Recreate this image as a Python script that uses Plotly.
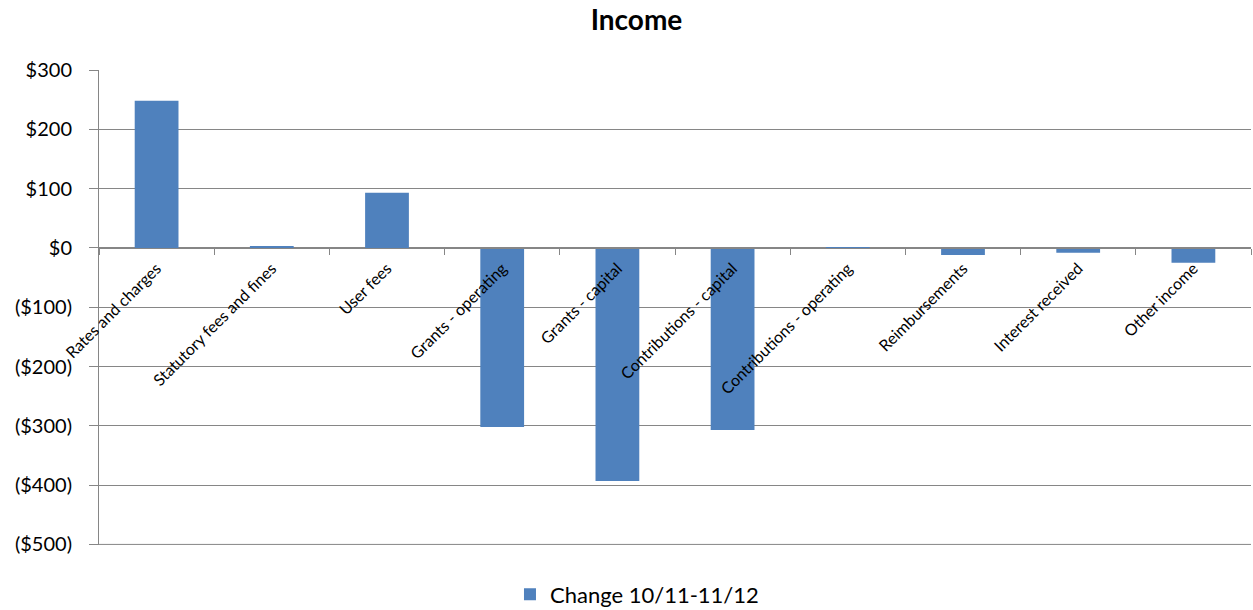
import plotly.graph_objects as go

categories = ["Rates and charges", "Statutory fees and fines", "User fees", "Grants - operating",
              "Grants - capital", "Contributions - capital", "Contributions - operating",
              "Reimbursements", "Interest received", "Other income"]
change_values = [248, 3, 93, -302, -393, -307, -1, -12, -8, -25]
series_name = "Change 10/11-11/12"
y_tickvals = [300, 200, 100, 0, -100, -200, -300, -400, -500]
y_ticktext = ["$300", "$200", "$100", "$0", "($100)", "($200)", "($300)", "($400)", "($500)"]

y_min, y_max = -501, 300
zero_pos = (0 - y_min) / (y_max - y_min)

fig = go.Figure()
fig.add_trace(go.Bar(x=categories, y=change_values, name=series_name,
                     marker=dict(color="#4F81BD", line=dict(width=0))))

# bottom gridline at the lowest tick (plotly skips it at the range edge)
fig.add_shape(type="line", xref="paper", x0=0, x1=1, yref="y", y0=y_tickvals[-1], y1=y_tickvals[-1],
              line=dict(color="#868686", width=1), layer="below")

fig.update_layout(
    width=1253, height=610,
    margin=dict(l=99, r=2, t=70, b=65, autoexpand=False),
    paper_bgcolor="white", plot_bgcolor="white",
    font=dict(family="Lato, Open Sans, sans-serif", color="black"),
    title=dict(text="<b>Income</b>", x=0.508, xanchor="center", y=0.967, yanchor="middle",
               font=dict(size=28, family="Lato, sans-serif")),
    bargap=0.62,
    showlegend=True,
    legend=dict(orientation="h", x=0.467, xanchor="center", y=-0.06, yanchor="top",
                font=dict(size=22), itemsizing="constant", itemwidth=30),
    xaxis=dict(type="category", anchor="free", position=zero_pos,
               showline=True, linecolor="#868686", linewidth=1,
               ticks="outside", ticklen=6, tickcolor="#868686", tickson="boundaries",
               tickangle=-45, tickfont=dict(size=16), showgrid=False,
               ticklabelstandoff=4,
               range=[-0.5, len(categories) - 0.5]),
    yaxis=dict(range=[y_min, y_max], tickvals=y_tickvals, ticktext=y_ticktext,
               showgrid=True, gridcolor="#868686", gridwidth=1,
               showline=True, linecolor="#868686", linewidth=1,
               ticks="outside", ticklen=9, tickcolor="#868686",
               ticklabelstandoff=13,
               tickfont=dict(size=20), zeroline=False),
)

fig.write_html("out.html")
